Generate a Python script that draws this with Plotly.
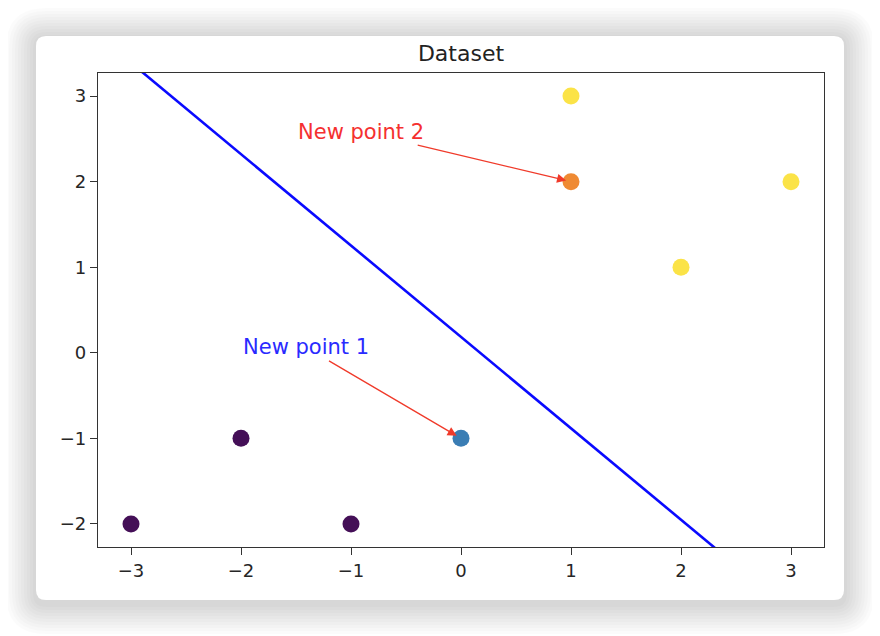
import plotly.graph_objects as go

# ---- data ----
class0_x = [-3, -2, -1]
class0_y = [-2, -1, -2]
class1_x = [1, 3, 2]
class1_y = [3, 2, 1]
new1_x, new1_y = [0], [-1]
new2_x, new2_y = [1], [2]
line_x = [-3.3, 3.3]
line_y = [3.71, -3.34]
tick_vals = [-3, -2, -1, 0, 1, 2, 3]
tick_text = ["\u22123", "\u22122", "\u22121", "0", "1", "2", "3"]
ytick_vals = [-2, -1, 0, 1, 2, 3]
ytick_text = ["\u22122", "\u22121", "0", "1", "2", "3"]
title = "Dataset"
labels = ["New point 1", "New point 2"]

W, H = 880, 636
OFF = 8  # page body margin
# plot area in screen px: x 98..824, y 73..547
L, T = 98 - OFF, 73 - OFF
R, B = W - (824 - OFF), H - (547 - OFF)
FONT = "DejaVu Sans"

fig = go.Figure()
fig.add_trace(go.Scatter(x=line_x, y=line_y, mode="lines",
                         line=dict(color="#0a0aff", width=2.6), hoverinfo="skip"))
fig.add_trace(go.Scatter(x=class0_x, y=class0_y, mode="markers",
                         marker=dict(size=17, color="#440f57", line=dict(width=0))))
fig.add_trace(go.Scatter(x=class1_x, y=class1_y, mode="markers",
                         marker=dict(size=17, color="#fbe347", line=dict(width=0))))
fig.add_trace(go.Scatter(x=new1_x, y=new1_y, mode="markers",
                         marker=dict(size=17, color="#3a7db4", line=dict(width=0))))
fig.add_trace(go.Scatter(x=new2_x, y=new2_y, mode="markers",
                         marker=dict(size=17, color="#ef8a33", line=dict(width=0))))

# annotations (pixel offsets for text centre relative to the point)
fig.add_annotation(x=new1_x[0], y=new1_y[0], xref="x", yref="y", text=labels[0],
                   ax=-155, ay=-91, showarrow=True, arrowhead=2, arrowsize=1.4,
                   arrowwidth=1.3, arrowcolor="#f03a2a", standoff=5,
                   font=dict(family=FONT, size=21, color="#2a2aff"))
fig.add_annotation(x=new2_x[0], y=new2_y[0], xref="x", yref="y", text=labels[1],
                   ax=-210, ay=-50, showarrow=True, arrowhead=2, arrowsize=1.4,
                   arrowwidth=1.3, arrowcolor="#f03a2a", standoff=5,
                   font=dict(family=FONT, size=21, color="#f53030"))


def rrect(x0, y0, x1, y1, r):
    return (f"M{x0+r},{y0} L{x1-r},{y0} Q{x1},{y0} {x1},{y0+r} "
            f"L{x1},{y1-r} Q{x1},{y1} {x1-r},{y1} L{x0+r},{y1} "
            f"Q{x0},{y1} {x0},{y1-r} L{x0},{y0+r} Q{x0},{y0} {x0+r},{y0} Z")


# card (screen px 36..844 x 36..600), pixel coords relative to plot bottom-left, y up
px0, py0 = 98, 547
cx0, cx1 = 36 - px0, 844 - px0
cy0, cy1 = py0 - 600, py0 - 36
shapes = []
for i in range(10, 0, -1):
    e = 3 * i
    shapes.append(dict(type="path", xref="paper", yref="paper", xsizemode="pixel",
                       ysizemode="pixel", xanchor=0, yanchor=0,
                       path=rrect(cx0 - e, cy0 - e - 4, cx1 + e, cy1 + e - 2, 10 + e),
                       fillcolor="rgba(0,0,0,0.016)", line=dict(width=0), layer="below"))
shapes.append(dict(type="path", xref="paper", yref="paper", xsizemode="pixel",
                   ysizemode="pixel", xanchor=0, yanchor=0,
                   path=rrect(cx0, cy0, cx1, cy1, 10),
                   fillcolor="white", line=dict(width=0), layer="below"))

axis_common = dict(showline=True, mirror=True, linecolor="#333333", linewidth=1.3,
                   ticks="outside", ticklen=7, tickwidth=1.3, tickcolor="#333333",
                   showgrid=False, zeroline=False,
                   tickfont=dict(family=FONT, size=18, color="#262626"))

fig.update_layout(
    width=W, height=H,
    margin=dict(l=L, r=R, t=T, b=B),
    paper_bgcolor="white", plot_bgcolor="white",
    showlegend=False,
    shapes=shapes,
    title=dict(text=title, x=(461 - OFF) / W, xanchor="center",
               y=1 - (53 - OFF) / H, yanchor="middle", yref="container",
               font=dict(family=FONT, size=22, color="#222222")),
    xaxis=dict(range=[-3.3, 3.3], tickvals=tick_vals, ticktext=tick_text, **axis_common),
    yaxis=dict(range=[-2.27, 3.27], tickvals=ytick_vals, ticktext=ytick_text, **axis_common),
)

fig.write_html("out.html")
